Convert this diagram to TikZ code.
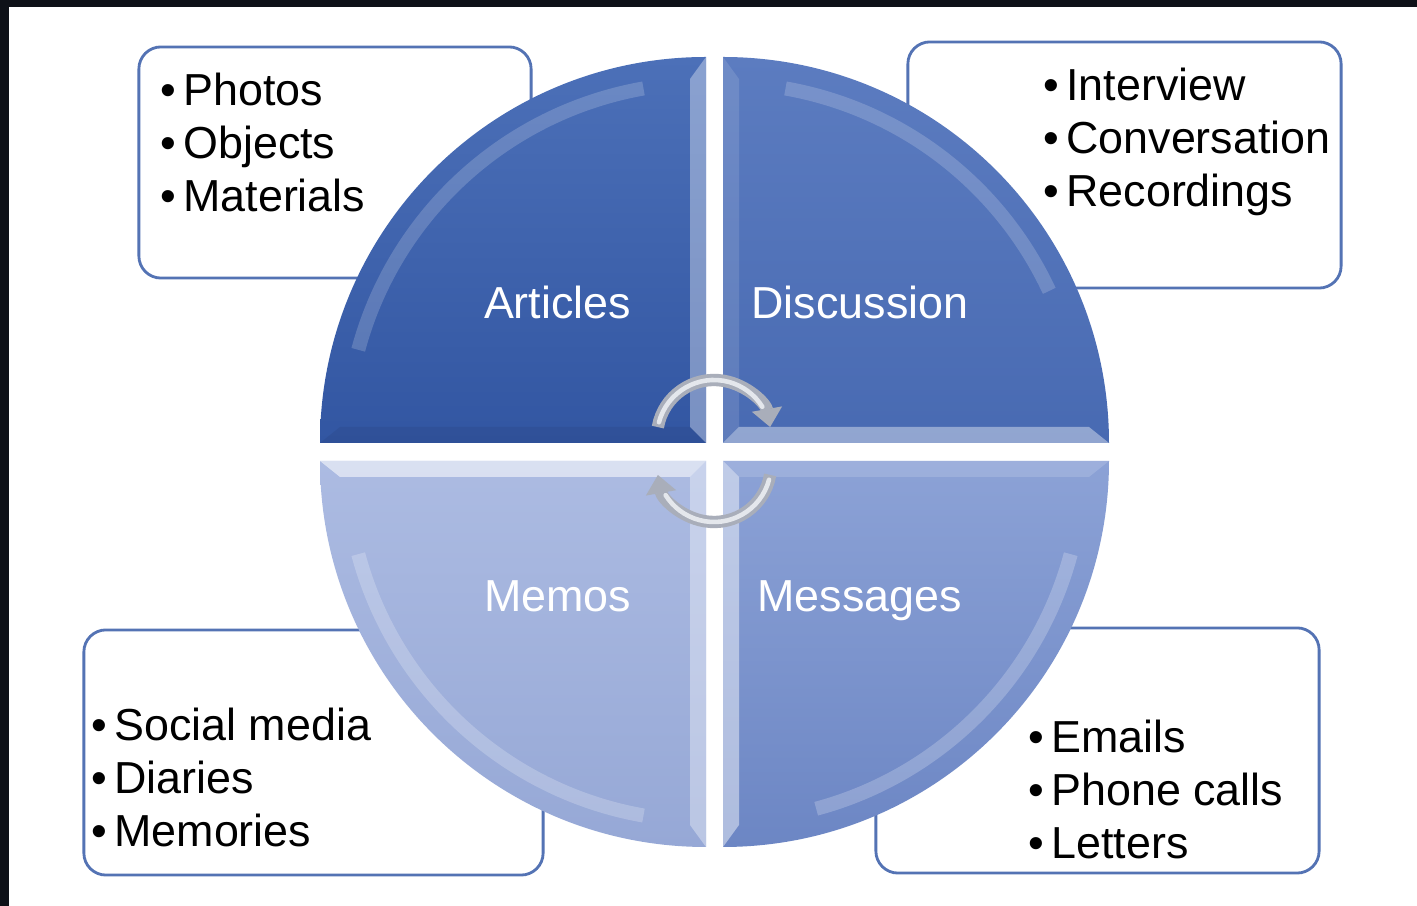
\documentclass[tikz,border=0pt]{standalone}
\usepackage{fontspec}
\setmainfont{Liberation Sans}
\usepackage{tikz}
\usetikzlibrary{arrows.meta}

\definecolor{framedark}{HTML}{0E1118}
\definecolor{boxblue}{HTML}{5473B4}
\definecolor{arrowgray}{HTML}{A9AEBA}
\definecolor{arrowlight}{HTML}{E4E7EC}

\begin{document}
\begin{tikzpicture} [x=0.01cm, y=0.01cm,
infobox/.style = {draw=boxblue, line width=0.8pt, rounded corners=0.22cm, fill=white},
itemtext/.style = {anchor=north west, inner sep=0pt, align=left,
  font=\fontsize{12.75}{15.1}\selectfont},
quadlabel/.style = {anchor=base, inner sep=0pt, text=white,
  font=\fontsize{12.75}{15.1}\selectfont},
lightedge/.style = {fill=white, fill opacity=#1},
turnarrow/.style = {draw=arrowgray, line width=3.5pt,
  -{Triangle[length=5.2pt, width=8.4pt]}},
turnshine/.style = {draw=arrowlight, line width=1.3pt, line cap=round}]
\useasboundingbox (0,0) rectangle (1417,906);
\fill[framedark] (0,0) rectangle (1417,906);
\fill[white] (9,0) rectangle (1417,899);

% boxes behind the pie
\node (artbox)[infobox, minimum width=3.92cm, minimum height=2.31cm] at (335,743.5) {};
\node (disbox)[infobox, minimum width=4.33cm, minimum height=2.46cm] at (1124.5,741) {};
\node (memobox)[infobox, minimum width=4.59cm, minimum height=2.45cm] at (313.5,153.5) {};
\node (msgbox)[infobox, minimum width=4.43cm, minimum height=2.45cm] at (1097.5,155.5) {};

\node (artitems)[itemtext] at (160,834) {•\kern2pt Photos\\•\kern2pt Objects\\•\kern2pt Materials};
\node (disitems)[itemtext] at (1043,839) {•\kern2pt Interview\\•\kern2pt Conversation\\•\kern2pt Recordings};
\node (memoitems)[itemtext] at (91,199) {•\kern2pt Social media\\•\kern2pt Diaries\\•\kern2pt Memories};
\node (msgitems)[itemtext] at (1028,187) {•\kern2pt Emails\\•\kern2pt Phone calls\\•\kern2pt Letters};

% the four quarters
\shade[top color={rgb,255:red,76;green,112;blue,184}, bottom color={rgb,255:red,50;green,86;blue,162}]
(706,463) -- (320,463) arc[start angle=180, end angle=90, radius=386] -- cycle;
\shade[top color={rgb,255:red,92;green,124;blue,192}, bottom color={rgb,255:red,72;green,106;blue,178}]
(723,463) -- (723,849) arc[start angle=90, end angle=0, radius=386] -- cycle;
\shade[top color={rgb,255:red,172;green,187;blue,226}, bottom color={rgb,255:red,150;green,168;blue,214}]
(706,445) -- (706,59) arc[start angle=270, end angle=180, radius=386] -- cycle;
\shade[top color={rgb,255:red,140;green,162;blue,214}, bottom color={rgb,255:red,108;green,134;blue,196}]
(723,445) -- (1109,445) arc[start angle=0, end angle=-90, radius=386] -- cycle;

% bevels
\fill[lightedge=.35] (706,849) -- (706,463) -- (690,479) -- (690,827) -- cycle;
\fill[black, fill opacity=.06] (320,463) -- (706,463) -- (690,479) -- (340,479) -- cycle;
\draw[white, opacity=.18, line width=4pt] ([shift={(706,463)}]165:360) arc[start angle=165, end angle=100, radius=360];
\fill[lightedge=.4] (723,463) -- (1109,463) -- (1089,479) -- (739,479) -- cycle;
\fill[lightedge=.12] (723,463) -- (723,849) -- (739,827) -- (739,479) -- cycle;
\draw[white, opacity=.18, line width=4pt] ([shift={(723,463)}]80:360) arc[start angle=80, end angle=25, radius=360];
\fill[lightedge=.55] (320,445) -- (706,445) -- (690,429) -- (340,429) -- cycle;
\fill[lightedge=.35] (706,445) -- (706,59) -- (690,81) -- (690,429) -- cycle;
\draw[white, opacity=.22, line width=4pt] ([shift={(706,445)}]195:360) arc[start angle=195, end angle=260, radius=360];
\fill[lightedge=.45] (723,445) -- (723,59) -- (739,81) -- (739,429) -- cycle;
\fill[lightedge=.15] (723,445) -- (1109,445) -- (1089,429) -- (739,429) -- cycle;
\draw[white, opacity=.22, line width=4pt] ([shift={(723,445)}]-15:360) arc[start angle=-15, end angle=-75, radius=360];

\node (articles)[quadlabel] at (557.5,587) {Articles};
\node (discussion)[quadlabel] at (860,587) {Discussion};
\node (memos)[quadlabel] at (557.5,294) {Memos};
\node (messages)[quadlabel] at (859.5,294) {Messages};

% turning arrows in the middle
\draw[turnarrow] ([shift={(714,469)}]170:57) arc[start angle=170, end angle=10, radius=57];
\draw[turnshine] ([shift={(714,469)}]165:57) arc[start angle=165, end angle=32, radius=57];
\draw[turnarrow] ([shift={(714,441)}]-10:57) arc[start angle=-10, end angle=-170, radius=57];
\draw[turnshine] ([shift={(714,441)}]-15:57) arc[start angle=-15, end angle=-148, radius=57];
\end{tikzpicture}
\end{document}
